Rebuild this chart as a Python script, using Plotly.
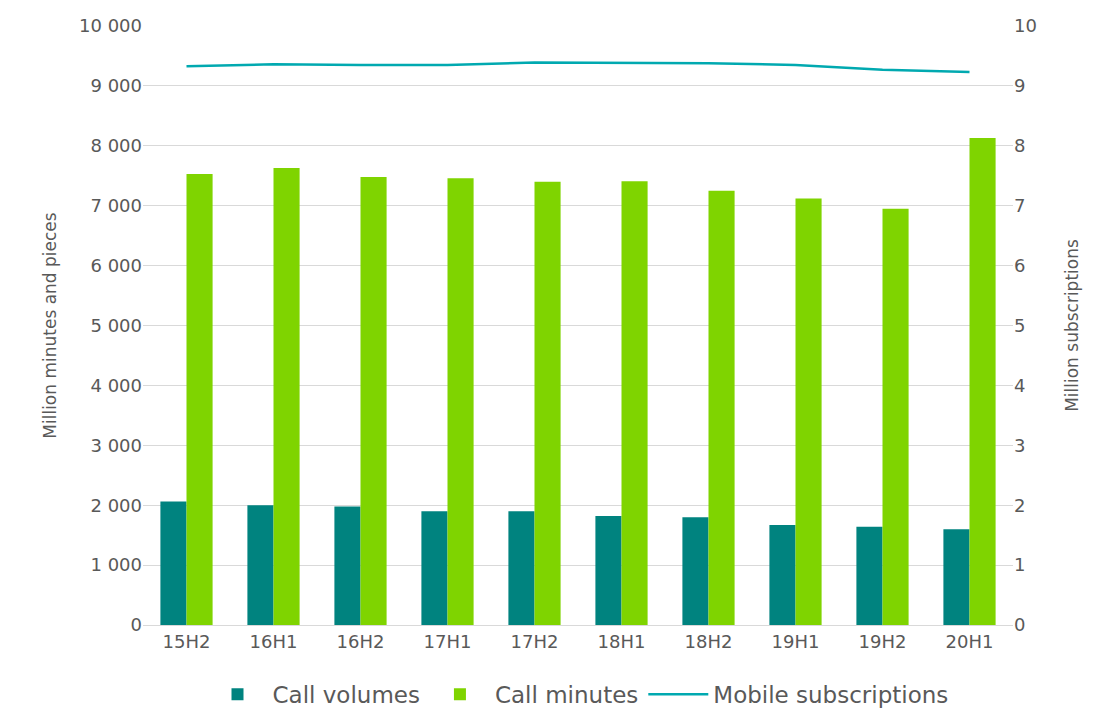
import plotly.graph_objects as go

periods = ["15H2", "16H1", "16H2", "17H1", "17H2", "18H1", "18H2", "19H1", "19H2", "20H1"]
call_volumes = [2060, 2000, 1980, 1900, 1900, 1820, 1800, 1670, 1640, 1600]
call_minutes = [7530, 7630, 7480, 7460, 7400, 7410, 7250, 7120, 6950, 8130]
mobile_subs = [9.33, 9.36, 9.35, 9.35, 9.39, 9.38, 9.38, 9.35, 9.27, 9.23]

fig = go.Figure()
fig.add_trace(go.Bar(x=periods, y=call_volumes, name="Call volumes", marker_color="#00837F",
                     marker_line_width=0))
fig.add_trace(go.Bar(x=periods, y=call_minutes, name="Call minutes", marker_color="#7FD400",
                     marker_line_width=0))
fig.add_trace(go.Scatter(x=periods, y=mobile_subs, name="Mobile subscriptions", yaxis="y2",
                         mode="lines", line=dict(color="#00A9B0", width=2.5)))

fig.update_layout(
    width=1098, height=720,
    plot_bgcolor="white", paper_bgcolor="white",
    font=dict(family="DejaVu Sans", size=18, color="#595959"),
    separators=". ",
    barmode="group", bargap=0.4, bargroupgap=0,
    margin=dict(l=135, r=93, t=18, b=98),
    xaxis=dict(showline=True, linecolor="#d9d9d9", ticks="", automargin=False),
    yaxis=dict(range=[0, 10000], dtick=1000, tickformat=",", gridcolor="#d9d9d9", automargin=False,
               title=dict(text="Million minutes and pieces", font=dict(size=17), standoff=18),
               zeroline=False),
    yaxis2=dict(range=[0, 10], dtick=1, overlaying="y", side="right", showgrid=False, automargin=False,
                title=dict(text="Million subscriptions", font=dict(size=17), standoff=30),
                zeroline=False),
    legend=dict(orientation="h", x=0.5, xanchor="center", y=-0.08, yanchor="top",
                font=dict(size=23), itemwidth=60),
)

fig.write_html("out.html")
